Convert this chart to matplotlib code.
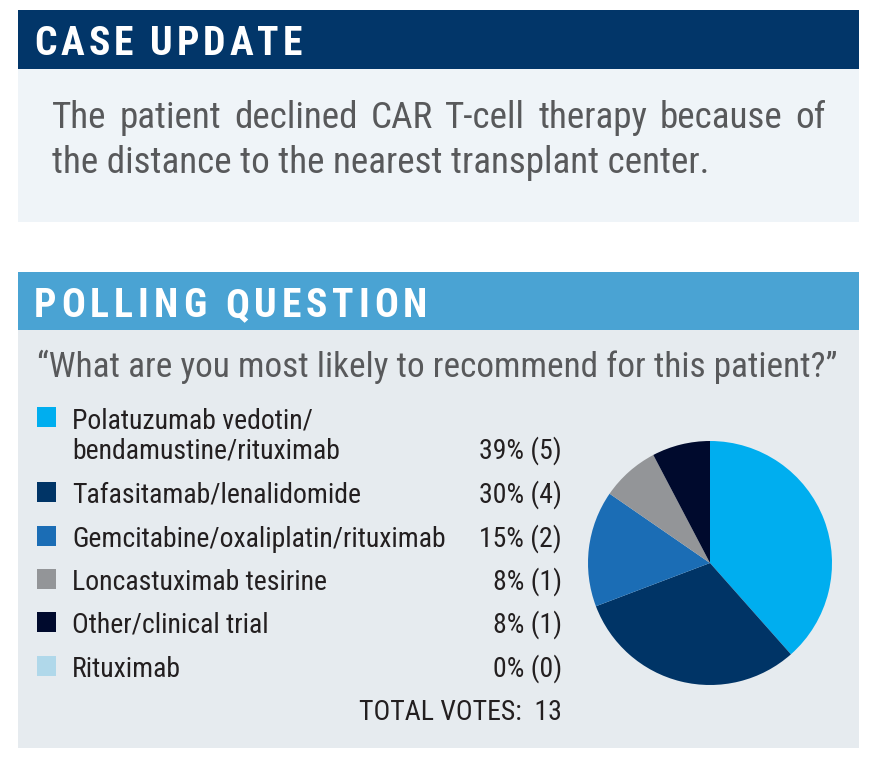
import matplotlib
matplotlib.use("Agg")
import matplotlib.pyplot as plt
from matplotlib.patches import Rectangle
from matplotlib import font_manager as fm

W, H = 874, 770
DPI = 100

# ---- data ----
header1 = "CASE UPDATE"
case_lines = ["The patient declined CAR T-cell therapy because of",
              "the distance to the nearest transplant center."]
header2 = "POLLING QUESTION"
question = "\u201cWhat are you most likely to recommend for this patient?\u201d"
categories = ["Polatuzumab vedotin/\nbendamustine/rituximab",
              "Tafasitamab/lenalidomide",
              "Gemcitabine/oxaliplatin/rituximab",
              "Loncastuximab tesirine",
              "Other/clinical trial",
              "Rituximab"]
percents = [39, 30, 15, 8, 8, 0]
votes = [5, 4, 2, 1, 1, 0]
total_votes = 13
colors = ["#00AEEF", "#003466", "#1B6DB5", "#939598", "#000A2D", "#B0D8EA"]


def pick_condensed(weight="normal"):
    cands = ["Roboto Condensed", "Liberation Sans Narrow", "Open Sans Condensed",
             "Noto Sans", "DejaVu Sans", "Roboto", "Open Sans", "Inter", "Lato"]
    for fam in cands:
        for st in ["condensed", "semi-condensed"]:
            try:
                f = fm.findfont(fm.FontProperties(family=fam, stretch=st, weight=weight),
                                fallback_to_default=False)
            except Exception:
                continue
            low = f.lower()
            if "condensed" in low or "narrow" in low:
                return fam, st
    return "DejaVu Sans", "normal"


FAM, STR = pick_condensed("normal")
FAMB, STRB = pick_condensed("bold")

fig = plt.figure(figsize=(W / DPI, H / DPI), dpi=DPI)
fig.patch.set_facecolor("white")
ax = fig.add_axes([0, 0, 1, 1])
ax.set_xlim(0, W)
ax.set_ylim(H, 0)
ax.axis("off")

# boxes
ax.add_patch(Rectangle((18, 10), 841, 59, color="#023669", lw=0))
ax.add_patch(Rectangle((18, 69), 841, 153, color="#EFF4F8", lw=0))
ax.add_patch(Rectangle((18, 272), 841, 58, color="#4AA3D3", lw=0))
ax.add_patch(Rectangle((18, 330), 841, 418, color="#E6EBEF", lw=0))

fig.canvas.draw()
renderer = fig.canvas.get_renderer()


def width_of(s, size, fam, st, weight="normal"):
    t = ax.text(0, -100, s, fontsize=size, family=[fam, "DejaVu Sans"],
                fontstretch=st, fontweight=weight)
    w = t.get_window_extent(renderer).width
    t.remove()
    return w


def fit_size(s, max_size, target_w, fam, st, weight="normal"):
    w = width_of(s, max_size, fam, st, weight)
    if w > target_w:
        return max_size * target_w / w
    return max_size


def tracked(text, x, y, target_w, max_size, **kw):
    """letters spread to fill target width (letter-spaced header)"""
    size = max_size
    ws = [width_of(ch, size, FAMB, STRB, "bold") for ch in text]
    if sum(ws) > target_w * 0.97:
        size = size * target_w * 0.97 / sum(ws)
        ws = [width_of(ch, size, FAMB, STRB, "bold") for ch in text]
    gap = (target_w - sum(ws)) / (len(text) - 1)
    cx = x
    for ch, wd in zip(text, ws):
        ax.text(cx, y, ch, va="baseline", ha="left", fontsize=size,
                family=[FAMB, "DejaVu Sans"], fontstretch=STRB, fontweight="bold", **kw)
        cx += wd + gap


tracked(header1, 34, 55, 268, 28.5, color="white")
tracked(header2, 34, 317, 393, 28.5, color="white")

# body text, first line justified
body_size = min(fit_size(case_lines[0], 27, 760, FAM, STR),
                fit_size(case_lines[1], 27, 656, FAM, STR))
body_kw = dict(color="#58595B", fontsize=body_size, family=[FAM, "DejaVu Sans"], fontstretch=STR)
words = case_lines[0].split(" ")
widths = [width_of(w_, body_size, FAM, STR) for w_ in words]
x0, x1 = 52, 826
gap = ((x1 - x0) - sum(widths)) / (len(words) - 1)
cx = x0
for w_, wd in zip(words, widths):
    ax.text(cx, 128, w_, va="baseline", ha="left", **body_kw)
    cx += wd + gap
ax.text(52, 173, case_lines[1], va="baseline", ha="left", **body_kw)

q_size = fit_size(question, 26, 801, FAM, STR)
ax.text(37, 377, question, va="baseline", ha="left", color="#58595B",
        fontsize=q_size, family=[FAM, "DejaVu Sans"], fontstretch=STR)

# legend
leg_size = min(fit_size(categories[2], 20, 398, FAM, STR),
               fit_size("15% (2)", 20, 86, FAM, STR))
leg_kw = dict(color="#231F20", fontsize=leg_size, family=[FAM, "DejaVu Sans"], fontstretch=STR)
base_y = [459, 503, 547, 590, 633, 677]
for i, (cat, p, v, c) in enumerate(zip(categories, percents, votes, colors)):
    y = base_y[i]
    lines = cat.split("\n")
    first_base = y - 31 * (len(lines) - 1)
    ax.add_patch(Rectangle((37, first_base - 21), 19, 20, color=c, lw=0))
    for j, ln in enumerate(lines):
        ax.text(72, first_base + 31 * j, ln, va="baseline", ha="left", **leg_kw)
    ax.text(562, y, f"{p}% ({v})", va="baseline", ha="right", **leg_kw)

ax.text(562, 720, f"TOTAL VOTES:  {total_votes}", va="baseline", ha="right", **leg_kw)

# pie
cxp, cyp, r = 710, 563, 122
pax = fig.add_axes([(cxp - r) / W, 1 - (cyp + r) / H, 2 * r / W, 2 * r / H])
pax.pie(votes, colors=colors, startangle=90, counterclock=False,
        wedgeprops=dict(linewidth=0))
pax.set_xlim(-1, 1)
pax.set_ylim(-1, 1)
pax.set_aspect("equal")
pax.axis("off")

fig.savefig("out.png", dpi=DPI, facecolor="white")
